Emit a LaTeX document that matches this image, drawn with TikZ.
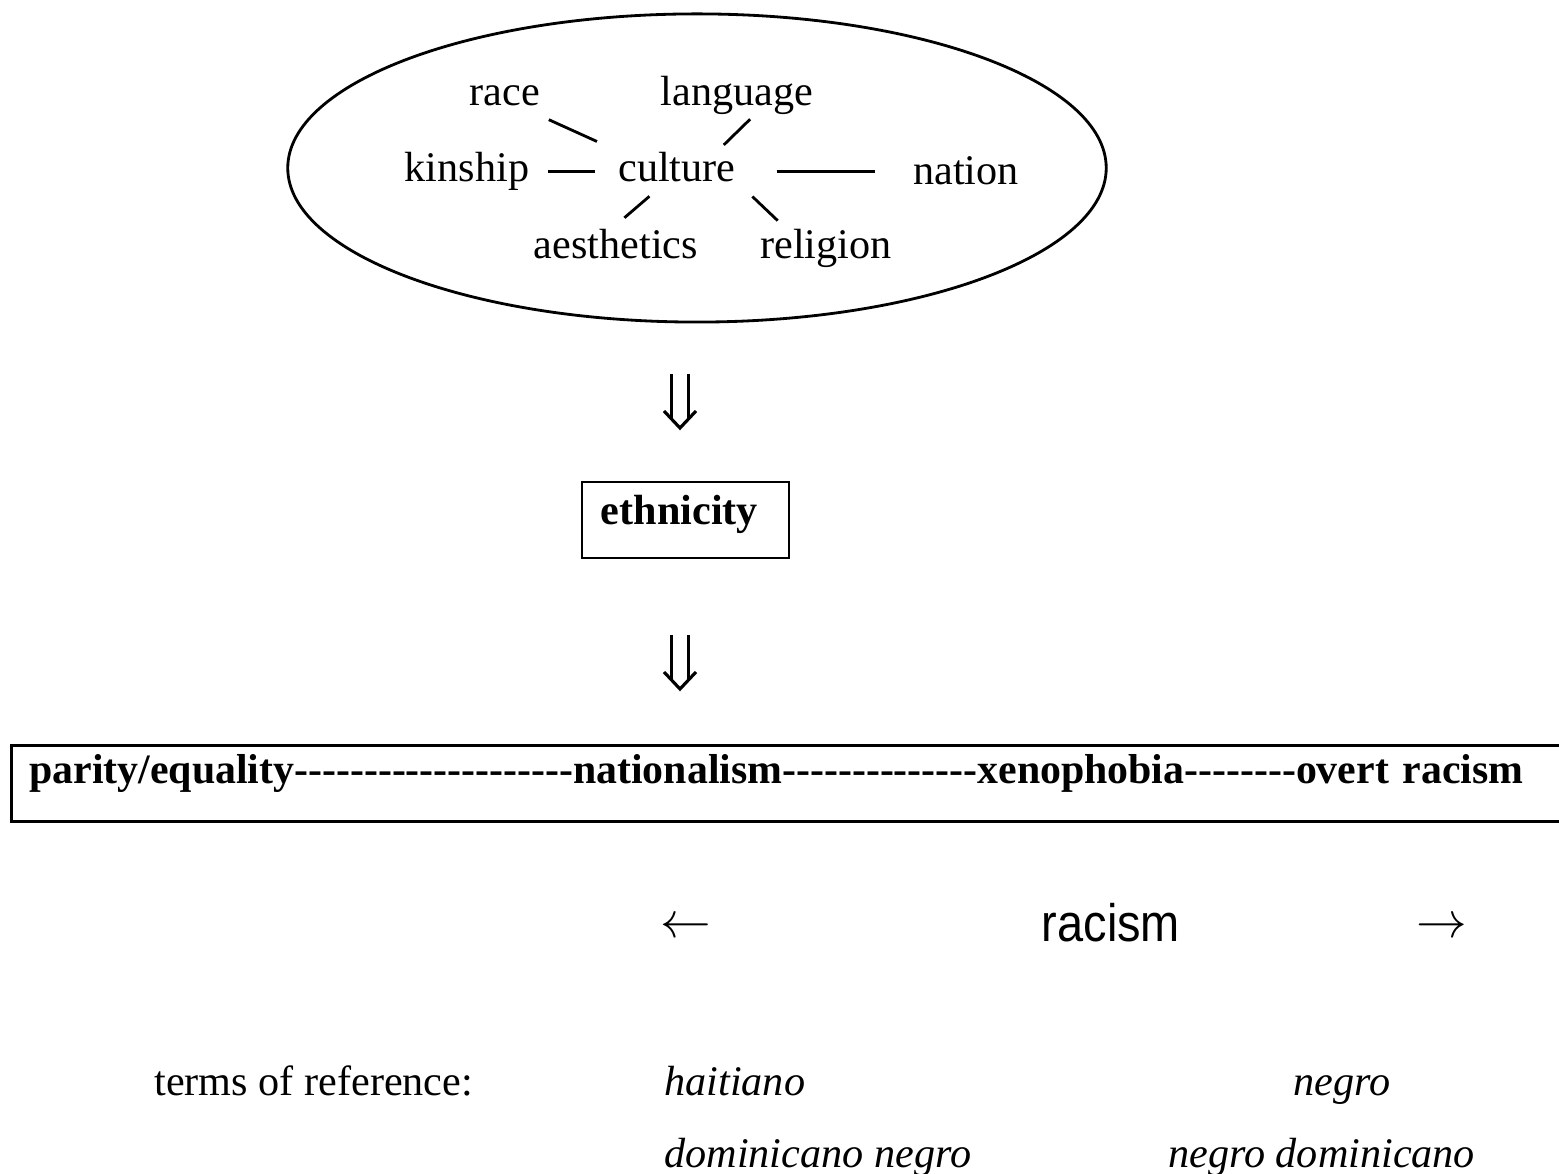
\documentclass[tikz,border=0pt]{standalone}
\usepackage{fontspec}
\setmainfont{Liberation Serif}
\newfontfamily\bandfont{Liberation Serif}
\newfontfamily\racismfont{Liberation Sans}
\usepackage{tikz}
\usetikzlibrary{shapes.geometric}

\newcommand\basesize{\fontsize{12pt}{14pt}\selectfont}

\tikzset{
  word/.style={inner sep=0pt, text height=0.3cm, text depth=0.09cm, anchor=base},
  term/.style={inner sep=0pt, anchor=base west, font=\basesize\itshape},
  downimplies/.pic={
    \draw[line width=0.9pt] (-8.5,0) -- (-8.5,45) (8.5,0) -- (8.5,45);
    \draw[line width=0.9pt] (-16,37) -- (0,54) -- (16,37);
  }
}

\begin{document}
\begin{tikzpicture}[x=0.01cm, y=-0.01cm, font=\basesize, line width=0.8pt]
\useasboundingbox (0,0) rectangle (1559,1174);

% what ethnicity is made of
\node[draw, ellipse, minimum width=8.18cm, minimum height=3.08cm] (field) at (697,168) {};
\node[word] (race) at (505,106) {race};
\node[word] (language) at (737,106) {language};
\node[word] (kinship) at (467,182) {kinship};
\node[word] (culture) at (677,182) {culture};
\node[word] (nation) at (966,185) {nation};
\node[word] (aesthetics) at (616,259) {aesthetics};
\node[word] (religion) at (826,259) {religion};

\draw[shorten <=0.08cm, shorten >=0.22cm] (race.south east) -- (culture.north west);
\draw[shorten <=0.04cm, shorten >=0.08cm] ([xshift=0.16cm]language.south) -- ([xshift=0.41cm]culture.north);
\draw[shorten <=0.175cm, shorten >=0.225cm] (kinship) -- (culture);
\draw[shorten <=0.395cm, shorten >=0.365cm] (culture.east) -- (culture.east -| nation.west);
\draw[shorten <=0.06cm, shorten >=0.15cm] ([xshift=-0.23cm]culture.south) -- ([xshift=-0.03cm]aesthetics.north);
\draw[shorten <=0.06cm, shorten >=0.1cm] ([xshift=0.71cm]culture.south) -- ([xshift=-0.41cm]religion.north);

\pic at (680,374) {downimplies};

\node[draw, minimum width=2.07cm, minimum height=0.76cm, inner xsep=0.19cm, inner ysep=0pt,
  text width=1.69cm, align=left, text height=0.3cm, text depth=0.2cm,
  font=\basesize\bfseries] (ethnic) at (685.5,520) {ethnicity};

\pic at (680,635) {downimplies};

% the scale
\node[draw, anchor=north west, inner xsep=0.18cm, inner ysep=0pt, text width=16cm, align=left,
  minimum height=0.76cm, text height=0.3cm, text depth=0.3cm,
  font=\fontsize{11.9pt}{14pt}\selectfont\bandfont\bfseries] (spectrum) at (10,744)
  {parity/equality--------------------nationalism--------------xenophobia--------overt racism};

\node[font=\fontsize{13.5pt}{16pt}\selectfont] (leftarr) at (686,928) {$\leftarrow$};
\node[anchor=base, font=\racismfont\fontsize{15pt}{18pt}\selectfont] (racism) at (1111,942) {\scalebox{0.89}[1]{racism}};
\node[font=\fontsize{13.5pt}{16pt}\selectfont] (rightarr) at (1442,928) {$\rightarrow$};

% terms
\node[inner sep=0pt, anchor=base west] (terms) at (153,1096) {terms of reference:};
\node[term] (haitiano) at (663,1096) {haitiano};
\node[term] (negro) at (1292,1096) {negro};
\node[term] (domneg) at (663,1168) {dominicano negro};
\node[term] (negdom) at (1167,1168) {negro dominicano};
\end{tikzpicture}
\end{document}
